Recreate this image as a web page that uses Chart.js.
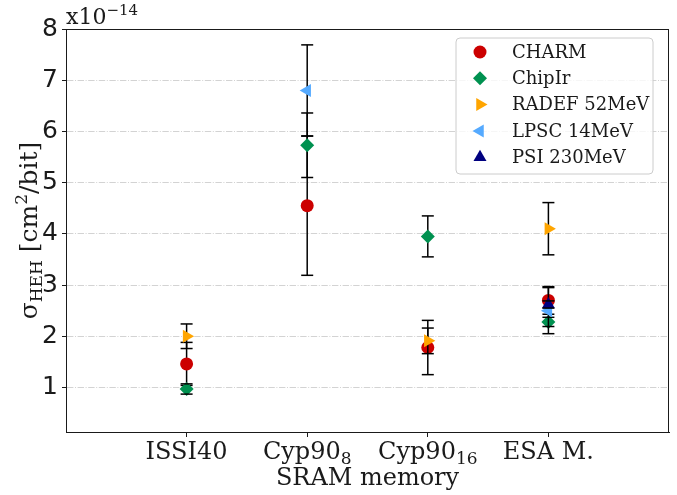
<!DOCTYPE html>
<html>
<head>
<meta charset="utf-8">
<script src="https://cdn.jsdelivr.net/npm/chart.js@4.4.1/dist/chart.umd.min.js"></script>
<style>
  html, body { margin: 0; padding: 0; background: #fff; }
  #wrap { width: 677px; height: 495px; }
</style>
</head>
<body>
<div id="wrap"><canvas id="chart"></canvas></div>
<script>
// memories tested (x positions 0..3): main text + subscript
const categories = ["ISSI40", "Cyp90", "Cyp90", "ESA M."];
const catSubs = ["", "8", "16", ""];
const yTicks = [1, 2, 3, 4, 5, 6, 7, 8];

// cross sections, units of 1e-14 cm2/bit (null = not measured)
const charmVals  = [1.46, 4.55, 1.78, 2.70];
const charmErr   = [0.42, 1.36, 0.53, 0.27];
const chipirVals = [0.97, 5.73, 3.95, 2.28];
const chipirErr  = [0.10, 0.63, 0.40, 0.09];
const radefVals  = [2.00, null, 1.91, 4.10];
const radefErr   = [0.24, null, 0.25, 0.51];
const lpscVals   = [null, 6.80, null, 2.50];
const lpscErr    = [null, 0.89, null, 0.45];
const psiVals    = [null, null, null, 2.62];
const psiErr     = [null, null, null, 0.07];

const SERIF = "'DejaVu Serif', serif";
const SANS = "'DejaVu Sans', sans-serif";
const INK = "#1a1a1a";

function toPoints(vals, errs) {
    const pts = [];
    vals.forEach((v, i) => {
        if (v !== null) pts.push({ x: i, y: v, err: errs[i] });
    });
    return pts;
}

function series(label, vals, errs, color, style, rotation, radius, order) {
    return {
        label,
        data: toPoints(vals, errs),
        backgroundColor: color,
        borderColor: color,
        borderWidth: 0,
        pointStyle: style,
        rotation,
        pointRadius: radius,
        pointHoverRadius: radius,
        order,
    };
}

// matplotlib-like error bars: line under the marker, caps on top
const errorBars = {
    id: "errorBars",
    beforeDatasetDraw(chart, args) {
        const ys = chart.scales.y;
        const ctx = chart.ctx;
        ctx.save();
        ctx.strokeStyle = "#000";
        ctx.lineWidth = 1.5;
        args.meta.data.forEach((pt, i) => {
            const d = chart.data.datasets[args.index].data[i];
            ctx.beginPath();
            ctx.moveTo(pt.x, ys.getPixelForValue(d.y + d.err));
            ctx.lineTo(pt.x, ys.getPixelForValue(d.y - d.err));
            ctx.stroke();
        });
        ctx.restore();
    },
    afterDatasetDraw(chart, args) {
        const ys = chart.scales.y;
        const ctx = chart.ctx;
        ctx.save();
        ctx.strokeStyle = "#000";
        ctx.lineWidth = 1.5;
        args.meta.data.forEach((pt, i) => {
            const d = chart.data.datasets[args.index].data[i];
            [d.y + d.err, d.y - d.err].forEach(v => {
                const py = ys.getPixelForValue(v);
                ctx.beginPath();
                ctx.moveTo(pt.x - 6, py);
                ctx.lineTo(pt.x + 6, py);
                ctx.stroke();
            });
        });
        ctx.restore();
    },
};

// writes pieces of text one after the other, some as sub/superscripts
function richText(ctx, parts, x, y, align) {
    let total = 0;
    parts.forEach(p => {
        ctx.font = p.size + "px " + SERIF;
        p.w = ctx.measureText(p.t).width;
        total += p.w;
    });
    let cx = align === "center" ? x - total / 2 : x;
    parts.forEach(p => {
        ctx.font = p.size + "px " + SERIF;
        ctx.fillText(p.t, cx, y + p.dy);
        cx += p.w;
    });
}

// frame, tick labels with subscripts, titles, offset text and legend
const decorations = {
    id: "decorations",
    afterDraw(chart) {
        const { ctx, chartArea } = chart;
        const xs = chart.scales.x;
        ctx.save();
        ctx.strokeStyle = INK;
        ctx.lineWidth = 1;
        ctx.strokeRect(chartArea.left + 0.5, chartArea.top + 0.5,
            chartArea.right - chartArea.left - 1, chartArea.bottom - chartArea.top);

        ctx.fillStyle = INK;
        ctx.textBaseline = "alphabetic";
        ctx.textAlign = "left";

        // x tick labels
        categories.forEach((c, i) => {
            const parts = [{ t: c, size: 24, dy: 0 }];
            if (catSubs[i]) parts.push({ t: catSubs[i], size: 17, dy: 5 });
            richText(ctx, parts, xs.getPixelForValue(i), chartArea.bottom + 27, "center");
        });

        // x10^-14
        richText(ctx, [
            { t: "x10", size: 22, dy: 0 },
            { t: "\u221214", size: 15, dy: -9 },
        ], 66, 24, "left");

        // sigma_HEH [cm^2/bit]
        ctx.save();
        ctx.translate(37, (chartArea.top + chartArea.bottom) / 2);
        ctx.rotate(-Math.PI / 2);
        richText(ctx, [
            { t: "\u03c3", size: 25, dy: 0 },
            { t: "HEH", size: 17, dy: 5 },
            { t: " [cm", size: 25, dy: 0 },
            { t: "2", size: 17, dy: -10 },
            { t: "/bit]", size: 25, dy: 0 },
        ], 0, 0, "center");
        ctx.restore();

        // legend box
        const lx = 456, ly = 38, lw = 197, lh = 136, r = 4;
        ctx.beginPath();
        ctx.moveTo(lx + r, ly);
        ctx.arcTo(lx + lw, ly, lx + lw, ly + lh, r);
        ctx.arcTo(lx + lw, ly + lh, lx, ly + lh, r);
        ctx.arcTo(lx, ly + lh, lx, ly, r);
        ctx.arcTo(lx, ly, lx + lw, ly, r);
        ctx.closePath();
        ctx.fillStyle = "rgba(255,255,255,0.8)";
        ctx.fill();
        ctx.strokeStyle = "#cccccc";
        ctx.stroke();

        chart.data.datasets.forEach((ds, i) => {
            const ry = ly + 14 + i * 26.3;
            ctx.fillStyle = ds.backgroundColor;
            Chart.helpers.drawPoint(ctx, {
                pointStyle: ds.pointStyle,
                rotation: ds.rotation,
                radius: ds.pointRadius,
                borderWidth: 0,
            }, lx + 24, ry);
            ctx.fillStyle = INK;
            ctx.font = "18px " + SERIF;
            ctx.textBaseline = "middle";
            ctx.fillText(ds.label, lx + 56, ry + 1);
            ctx.textBaseline = "alphabetic";
        });
        ctx.restore();
    },
};

new Chart(document.getElementById("chart"), {
    type: "scatter",
    data: {
        datasets: [
            series("CHARM", charmVals, charmErr, "#cc0000", "circle", 0, 6.5, 5),
            series("ChipIr", chipirVals, chipirErr, "#009150", "rectRot", 0, 7, 4),
            series("RADEF 52MeV", radefVals, radefErr, "#ffa500", "triangle", 90, 7.5, 3),
            series("LPSC 14MeV", lpscVals, lpscErr, "#55aaff", "triangle", -90, 7.5, 2),
            series("PSI 230MeV", psiVals, psiErr, "#000080", "triangle", 0, 7.5, 1),
        ],
    },
    options: {
        responsive: true,
        maintainAspectRatio: false,
        animation: false,
        layout: { padding: { left: 0, right: 8, top: 29, bottom: 0 } },
        plugins: {
            tooltip: { enabled: false },
            legend: { display: false },
        },
        scales: {
            x: {
                type: "linear",
                min: -1,
                max: 4,
                afterBuildTicks: s => { s.ticks = categories.map((c, i) => ({ value: i })); },
                afterFit: s => { s.height = 63; },
                ticks: { display: false },
                grid: { drawOnChartArea: false, drawTicks: true, tickLength: 5, tickColor: INK },
                border: { color: INK, width: 1 },
                title: {
                    display: true,
                    text: "SRAM memory",
                    color: INK,
                    font: { family: SERIF, size: 24 },
                    padding: { top: 0, bottom: 2 },
                },
            },
            y: {
                min: 0.13,
                max: 8,
                afterBuildTicks: s => { s.ticks = yTicks.map(v => ({ value: v })); },
                afterFit: s => { s.width = 66; },
                ticks: {
                    color: INK,
                    font: { family: SANS, size: 25 },
                    padding: 4,
                },
                grid: { color: "#d3d3d3", lineWidth: 1, tickLength: 4, tickColor: INK },
                border: { color: INK, width: 1, dash: [6.4, 1.6, 1, 1.6] },
            },
        },
    },
    plugins: [errorBars, decorations],
});
</script>
</body>
</html>
